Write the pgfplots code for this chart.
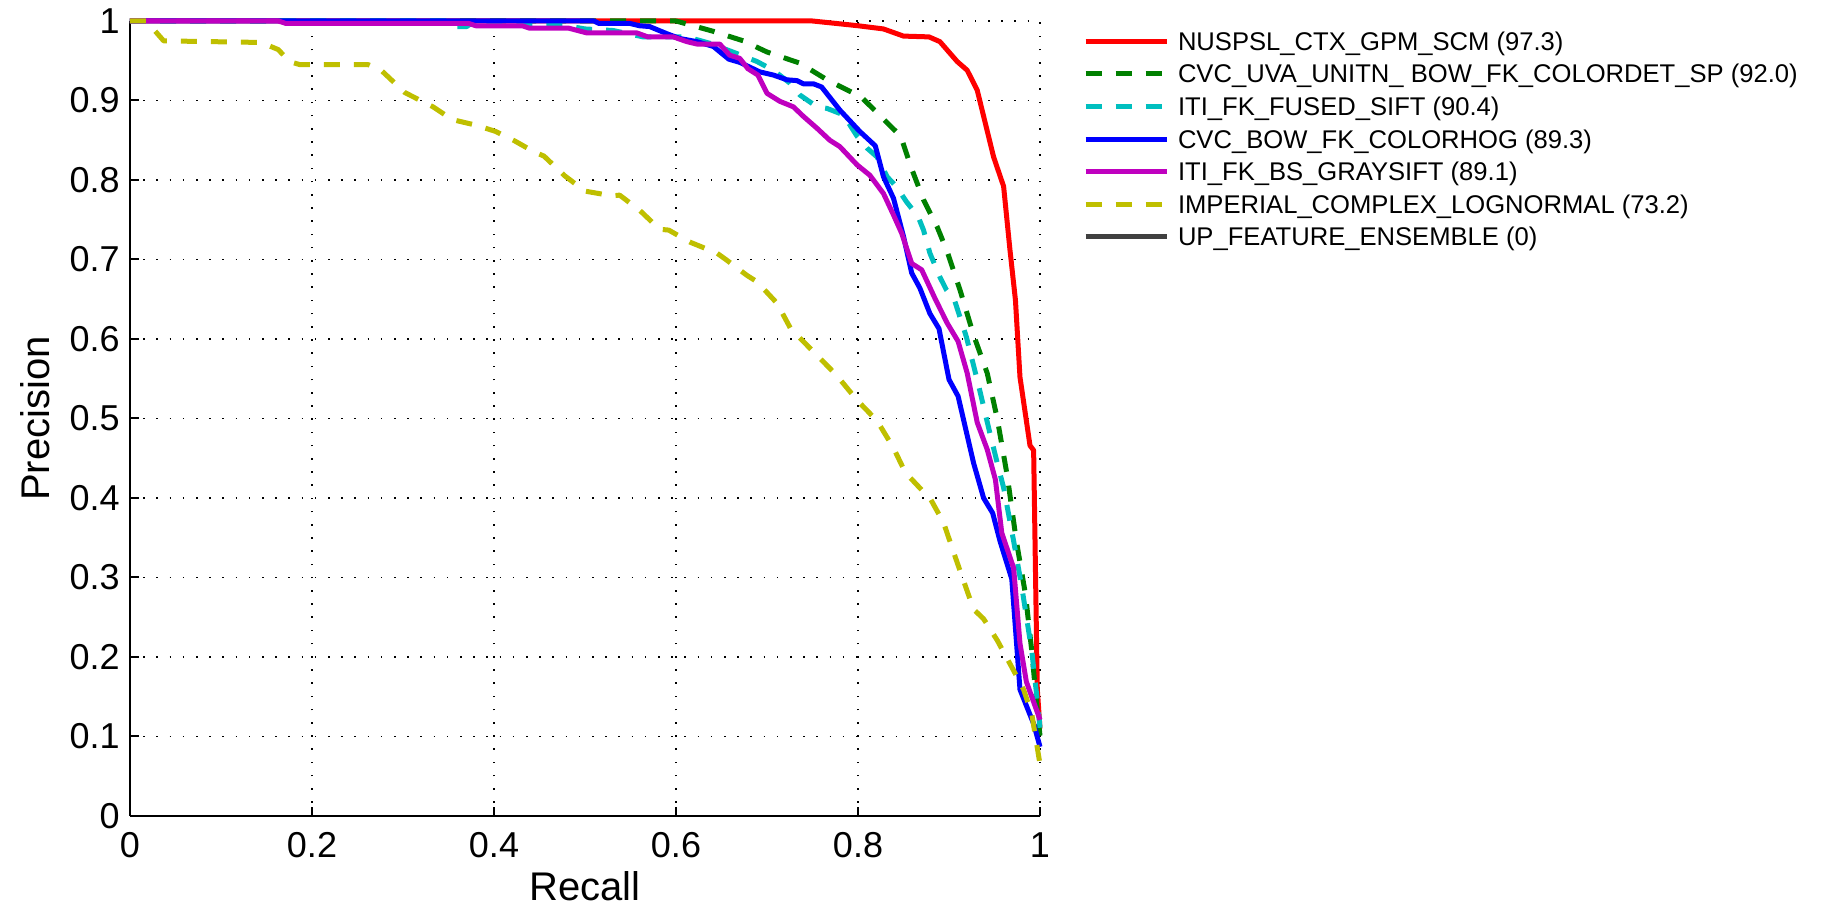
\documentclass[border=0pt]{standalone}
\usepackage{fontspec}
\setmainfont{Liberation Sans}
\usepackage{pgfplots}
\pgfplotsset{compat=1.18}
\definecolor{mgreen}{RGB}{0,128,0}
\definecolor{mcyan}{RGB}{0,191,191}
\definecolor{mmag}{RGB}{191,0,191}
\definecolor{myel}{RGB}{191,191,0}
\definecolor{mgray}{RGB}{64,64,64}
\begin{document}
\begin{tikzpicture}
\path[use as bounding box] (-65pt,-46.5pt) rectangle (853pt,408pt);
\begin{axis}[
  scale only axis, width=455pt, height=397.5pt,
  at={(0,0)}, anchor=south west,
  xmin=0, xmax=1, ymin=0, ymax=1,
  axis lines*=left,
  tick align=inside, major tick length=4.5pt,
  xtick={0,0.2,0.4,0.6,0.8,1},
  ytick={0,0.1,0.2,0.3,0.4,0.5,0.6,0.7,0.8,0.9,1},
  grid=major,
  major grid style={black, line width=0.6pt, dash pattern=on 0.8pt off 5.8pt},
  axis line style={black, line width=1pt},
  tick style={black, line width=1pt},
  tick label style={font=\fontsize{18}{18}\selectfont},
  /pgf/number format/assume math mode=true,
  yticklabel style={anchor=east, inner sep=0pt, xshift=-5pt},
  xticklabel style={anchor=north, inner sep=0pt, yshift=-8pt},
  xlabel={Recall}, ylabel={Precision},
  label style={font=\fontsize{20}{20}\selectfont},
  xlabel style={at={(axis description cs:0.5,-0.088)}, anchor=center},
  ylabel style={at={(axis description cs:-0.1044,0.5)}, anchor=center},
  clip=false,
  legend style={at={(1,1)}, anchor=north west, xshift=21.5pt, yshift=-3.4pt,
    draw=none, fill=none, inner sep=0pt, outer sep=0pt,
    row sep=2.86pt, column sep=4.5pt,
    font=\fontsize{12.8}{12.8}\selectfont,
    nodes={inner sep=0pt, text height=11.3pt, text depth=2.14pt}},
  legend cell align=left,
  legend image code/.code={\draw[#1] (0pt,0pt) -- (40.5pt,0pt);},
  every axis plot/.append style={line width=2.5pt, line join=round},
]
\addplot[color=red] coordinates {
(0,1) (0.75,1) (0.792,0.995) (0.8,0.994) (0.828,0.990) (0.850,0.981) (0.878,0.980) (0.890,0.974) (0.909,0.949) (0.920,0.938) (0.931,0.913) (0.949,0.829) (0.960,0.792) (0.967,0.712) (0.973,0.649) (0.978,0.552) (0.989,0.466) (0.993,0.46) (0.997,0.16) (1.0,0.11)
};
\addlegendentry{NUSPSL\_CTX\_GPM\_SCM (97.3)}
\addplot[color=mgreen, dash pattern=on 8pt off 7pt] coordinates {
(0,1) (0.60,1) (0.641,0.987) (0.674,0.975) (0.70,0.961) (0.736,0.947) (0.766,0.926) (0.792,0.911) (0.803,0.905) (0.825,0.880) (0.847,0.855) (0.858,0.817) (0.872,0.775) (0.887,0.741) (0.898,0.710) (0.912,0.662) (0.927,0.605) (0.942,0.557) (0.953,0.500) (0.964,0.428) (0.974,0.346) (0.984,0.279) (0.991,0.207) (0.996,0.145) (1.0,0.101)
};
\addlegendentry{CVC\_UVA\_UNITN\_ BOW\_FK\_COLORDET\_SP (92.0)}
\addplot[color=mcyan, dash pattern=on 8pt off 7pt] coordinates {
(0,1) (0.35,1) (0.355,0.993) (0.37,0.993) (0.375,0.997) (0.43,0.996) (0.48,0.994) (0.50,0.990) (0.531,0.988) (0.564,0.980) (0.612,0.980) (0.637,0.972) (0.667,0.959) (0.689,0.949) (0.707,0.938) (0.725,0.922) (0.736,0.907) (0.755,0.892) (0.766,0.890) (0.784,0.882) (0.799,0.855) (0.810,0.840) (0.821,0.829) (0.832,0.804) (0.842,0.792) (0.853,0.773) (0.866,0.754) (0.872,0.737) (0.879,0.708) (0.890,0.678) (0.897,0.662) (0.906,0.649) (0.919,0.603) (0.932,0.544) (0.944,0.486) (0.953,0.444) (0.960,0.413) (0.971,0.346) (0.980,0.288) (0.991,0.207) (0.998,0.135) (1.0,0.111)
};
\addlegendentry{ITI\_FK\_FUSED\_SIFT (90.4)}
\addplot[color=blue] coordinates {
(0,1) (0.51,1) (0.515,0.997) (0.549,0.997) (0.560,0.994) (0.571,0.993) (0.590,0.984) (0.604,0.978) (0.623,0.974) (0.641,0.968) (0.658,0.952) (0.670,0.948) (0.692,0.936) (0.707,0.932) (0.722,0.926) (0.733,0.925) (0.740,0.921) (0.751,0.921) (0.760,0.917) (0.780,0.888) (0.802,0.861) (0.819,0.843) (0.828,0.804) (0.839,0.777) (0.850,0.729) (0.859,0.683) (0.868,0.664) (0.879,0.632) (0.889,0.613) (0.900,0.549) (0.910,0.528) (0.927,0.444) (0.938,0.400) (0.948,0.381) (0.956,0.346) (0.969,0.298) (0.978,0.159) (0.993,0.116) (1.0,0.087)
};
\addlegendentry{CVC\_BOW\_FK\_COLORHOG (89.3)}
\addplot[color=mmag] coordinates {
(0,1) (0.163,1) (0.171,0.997) (0.372,0.997) (0.380,0.994) (0.431,0.994) (0.439,0.991) (0.482,0.991) (0.502,0.985) (0.557,0.985) (0.569,0.980) (0.597,0.980) (0.612,0.974) (0.623,0.971) (0.648,0.971) (0.659,0.957) (0.670,0.953) (0.679,0.940) (0.690,0.932) (0.700,0.909) (0.714,0.899) (0.729,0.892) (0.740,0.880) (0.755,0.865) (0.769,0.850) (0.780,0.842) (0.799,0.819) (0.813,0.806) (0.828,0.783) (0.839,0.756) (0.848,0.733) (0.859,0.695) (0.870,0.687) (0.885,0.650) (0.898,0.620) (0.910,0.597) (0.920,0.557) (0.931,0.495) (0.942,0.461) (0.951,0.423) (0.958,0.356) (0.971,0.312) (0.978,0.217) (0.985,0.169) (1.0,0.121)
};
\addlegendentry{ITI\_FK\_BS\_GRAYSIFT (89.1)}
\addplot[color=myel, dash pattern=on 8pt off 7pt] coordinates {
(0,1) (0.018,1) (0.037,0.975) (0.144,0.973) (0.163,0.964) (0.175,0.949) (0.187,0.945) (0.262,0.945) (0.276,0.938) (0.302,0.910) (0.333,0.892) (0.354,0.876) (0.380,0.869) (0.402,0.861) (0.423,0.849) (0.443,0.836) (0.455,0.830) (0.478,0.805) (0.500,0.786) (0.530,0.780) (0.538,0.781) (0.560,0.762) (0.582,0.738) (0.592,0.737) (0.615,0.722) (0.645,0.708) (0.656,0.699) (0.678,0.680) (0.689,0.672) (0.711,0.645) (0.726,0.613) (0.751,0.584) (0.776,0.555) (0.799,0.523) (0.821,0.497) (0.839,0.463) (0.852,0.432) (0.880,0.398) (0.894,0.369) (0.908,0.322) (0.927,0.260) (0.938,0.248) (0.953,0.221) (0.971,0.183) (0.982,0.159) (0.991,0.128) (1.0,0.065)
};
\addlegendentry{IMPERIAL\_COMPLEX\_LOGNORMAL (73.2)}
\addlegendimage{color=mgray, line width=2.5pt}
\addlegendentry{UP\_FEATURE\_ENSEMBLE (0)}
\end{axis}
\end{tikzpicture}
\end{document}
